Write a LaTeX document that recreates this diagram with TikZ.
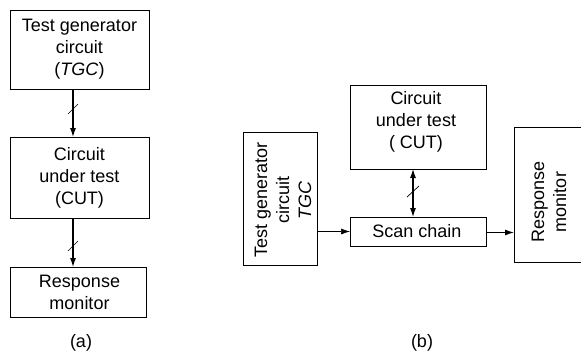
\documentclass[tikz,border=0pt]{standalone}
\usepackage{fontspec}
\setmainfont{Liberation Sans}
\usetikzlibrary{arrows.meta}
\begin{document}
\begin{tikzpicture}[x=1pt,y=-1pt,
  every node/.style={font=\fontsize{18}{22}\selectfont, inner sep=0pt},
  blk/.style={draw, line width=0.9pt},
  lbl/.style={align=center},
  arr/.style={line width=1.1pt, -{Latex[length=9pt,width=6pt]}},
  thinarr/.style={line width=0.7pt, -{Latex[length=9pt,width=6pt]}},
  darr/.style={line width=1.1pt, {Latex[length=9pt,width=6pt]}-{Latex[length=9pt,width=6pt]}},
  slash/.style={line width=0.7pt}]
\useasboundingbox (0,0) rectangle (581,353);
% (a)
\node[blk, minimum width=139pt, minimum height=79pt] (tgca) at (79.5,49.5) {};
\node[lbl] (tgcat) at (79.5,49) {Test generator\\circuit\\(\textit{TGC})};
\node[blk, minimum width=139pt, minimum height=81pt] (cuta) at (79.5,177.5) {};
\node[lbl] (cutat) at (79.5,178) {Circuit\\under test\\(CUT)};
\node[blk, minimum width=136pt, minimum height=50pt] (rma) at (78,292) {};
\node[lbl] (rmat) at (79.5,292) {Response\\monitor};
\coordinate (a1) at (73,89);
\coordinate (a2) at (73,137);
\coordinate (a3) at (73,218);
\coordinate (a4) at (73,267);
\draw[arr] (a1) -- (a2);
\draw[arr] (a3) -- (a4);
\coordinate (s1a) at (68,114); \coordinate (s1b) at (78,104);
\draw[slash] (s1a) -- (s1b);
\coordinate (s2a) at (68,251); \coordinate (s2b) at (78,241);
\draw[slash] (s2a) -- (s2b);
\node (la) at (81,343) {(a)};
% (b)
\node[blk, minimum width=74pt, minimum height=133pt] (tgcb) at (280,198.5) {};
\node[lbl, rotate=90] (tgcbt) at (283,200) {Test generator\\circuit\\\textit{TGC}};
\node[blk, minimum width=136pt, minimum height=84pt] (cutb) at (418,127) {};
\node[lbl] (cutbt) at (416,122) {Circuit\\under test\\( CUT)};
\node[blk, minimum width=136pt, minimum height=29pt] (scan) at (418,231.5) {};
\node (scant) at (417,231) {Scan chain};
\coordinate (rmtl) at (514,127);
\coordinate (rmbl) at (514,262);
\coordinate (rmtr) at (582,127);
\coordinate (rmbr) at (582,262);
\draw[line width=0.9pt] (rmtr) -- (rmtl) -- (rmbl) -- (rmbr);
\node[lbl, rotate=90] (rmbt) at (549,202) {Response\\monitor};
\coordinate (b1) at (317,231.5);
\coordinate (b2) at (350,231.5);
\draw[thinarr] (b1) -- (b2);
\coordinate (b3) at (486,232.5);
\coordinate (b4) at (514,232.5);
\draw[arr] (b3) -- (b4);
\coordinate (b5) at (413,169);
\coordinate (b6) at (413,217);
\draw[darr] (b5) -- (b6);
\coordinate (s3a) at (407,197); \coordinate (s3b) at (419,186);
\draw[slash] (s3a) -- (s3b);
\node (lb) at (422,343) {(b)};
\end{tikzpicture}
\end{document}
